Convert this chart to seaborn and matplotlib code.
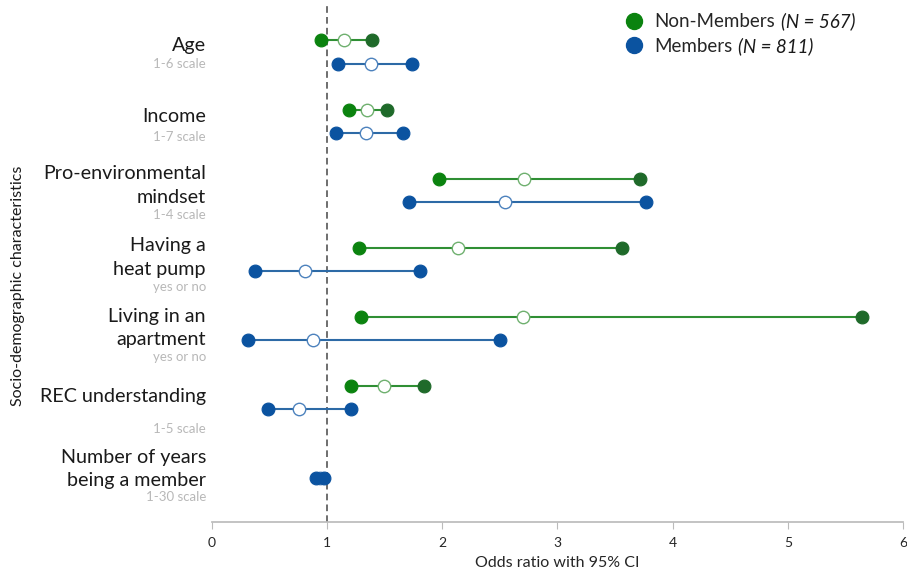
import numpy as np
import pandas as pd
import matplotlib
matplotlib.use("Agg")
import matplotlib.pyplot as plt
import seaborn as sns
from matplotlib.lines import Line2D

# ── Data ──────────────────────────────────────────────────
categories = ["Age", "Income", "Pro-environmental\nmindset", "Having a\nheat pump",
              "Living in an\napartment", "REC understanding",
              "Number of years\nbeing a member"]
scales = ["1-6 scale", "1-7 scale", "1-4 scale", "yes or no", "yes or no",
          "1-5 scale", "1-30 scale"]

nm_low = [0.95, 1.19, 1.97, 1.28, 1.29, 1.21, np.nan]
nm_or = [1.15, 1.35, 2.71, 2.14, 2.70, 1.49, np.nan]
nm_high = [1.39, 1.52, 3.72, 3.56, 5.64, 1.84, np.nan]

m_low = [1.09, 1.08, 1.71, 0.37, 0.31, 0.49, 0.90]
m_or = [1.38, 1.34, 2.54, 0.81, 0.88, 0.76, 0.94]
m_high = [1.74, 1.66, 3.77, 1.81, 2.50, 1.21, 0.97]

legend_names = ["Non-Members", "Members"]
legend_n = ["(N = 567)", "(N = 811)"]

# ── Styling ──────────────────────────────────────────────
sns.set_theme(style="white")
plt.rcParams["font.family"] = ["Lato", "DejaVu Sans"]

GREEN_LO, GREEN_HI, GREEN_LN = "#0b830f", "#1f6a2a", "#2f8f34"
BLUE, BLUE_LN = "#0b53a0", "#2d6aa6"

fig = plt.figure(figsize=(9.07, 5.71), dpi=100)
ax = fig.add_axes([0.2337, 0.0858, 0.7619, 0.905])

idx = np.arange(len(categories))
offset = 0.17
groups = [
    (idx - offset, nm_low, nm_or, nm_high, GREEN_LO, GREEN_HI, GREEN_LN, "#6fb06f"),
    (idx + offset, m_low, m_or, m_high, BLUE, BLUE, BLUE_LN, "#4d82bd"),
]

for ys, lo, mid, hi, c_lo, c_hi, c_ln, c_mid in groups:
    df = pd.DataFrame({"y": ys, "low": lo, "or": mid, "high": hi}).dropna()
    ax.hlines(df["y"], df["low"], df["high"], color=c_ln, lw=1.5, zorder=2)
    sns.scatterplot(data=df, x="or", y="y", ax=ax, color="white", s=80,
                    edgecolor=c_mid, linewidth=1.0, zorder=2.5, legend=False)
    sns.scatterplot(data=df, x="low", y="y", ax=ax, color=c_lo, s=85,
                    edgecolor=c_lo, linewidth=0.8, zorder=3, legend=False)
    sns.scatterplot(data=df, x="high", y="y", ax=ax, color=c_hi, s=85,
                    edgecolor=c_hi, linewidth=0.8, zorder=3, legend=False)

ax.axvline(1, color="#555555", lw=1.2, ls=(0, (4, 2.5)), zorder=1)

ax.set_xlim(0, 6)
ax.set_ylim(6.8, -0.68)
ax.set_yticks([])
ax.set_xticks(range(7))
ax.tick_params(axis="x", direction="out", length=5, width=0.8, color="#bbbbbb",
               labelsize=10, pad=6, bottom=True)
for s in ["top", "right", "left"]:
    ax.spines[s].set_visible(False)
ax.spines["bottom"].set_color("#bbbbbb")
ax.set_xlabel("Odds ratio with 95% CI", fontsize=11.5, labelpad=5)
ax.set_ylabel("")

# category labels + scale notes
main_y = [-0.1, 0.93, 1.93, 2.97, 3.99, 4.99, 6.03]
note_y = [0.17, 1.23, 2.36, 3.40, 4.41, 5.46, 6.44]
trans = matplotlib.transforms.blended_transform_factory(fig.transFigure, ax.transData)
for lab, note, y1, y2 in zip(categories, scales, main_y, note_y):
    ax.text(0.227, y1, lab, transform=trans, ha="right", va="center",
            fontsize=14.2, color="#1a1a1a", linespacing=1.45)
    ax.text(0.227, y2, note, transform=trans, ha="right", va="center",
            fontsize=9.5, color="#b8b8b8")

fig.text(0.02, 0.5, "Socio-demographic characteristics", rotation=90,
         ha="center", va="center", fontsize=11.5, color="#1a1a1a")

# legend: marker + normal name, italic N appended after it
handles = [
    Line2D([], [], marker="o", ls="", color="#0b830f", markersize=11.5),
    Line2D([], [], marker="o", ls="", color=BLUE, markersize=11.5),
]
leg = fig.legend(handles, legend_names, loc="upper left",
                 bbox_to_anchor=(0.664, 1.0), frameon=False, fontsize=13.5,
                 handletextpad=0.1, labelspacing=0.42, borderaxespad=0.3)
fig.canvas.draw()
inv = fig.transFigure.inverted()
for t, n in zip(leg.get_texts(), legend_n):
    bb = t.get_window_extent()
    x0, y0 = inv.transform((bb.x1, (bb.y0 + bb.y1) / 2))
    fig.text(x0 + 0.006, y0, n, fontsize=13.5, style="italic",
             ha="left", va="center", color="#1a1a1a")

fig.savefig("out.png", dpi=100)
